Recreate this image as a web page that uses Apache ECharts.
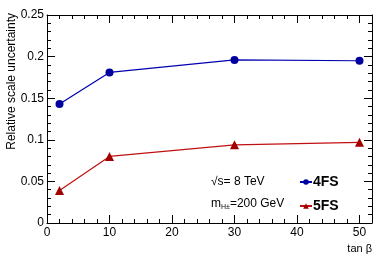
<!DOCTYPE html>
<html><head><meta charset="utf-8">
<script src="https://cdn.jsdelivr.net/npm/echarts@6/dist/echarts.min.js"></script>
<style>html,body{margin:0;padding:0;background:#fff}#c{width:392px;height:266px}</style>
</head><body><div id="c"></div>
<script>
const tanBeta = [2, 10, 30, 50];
const fs4 = [0.143, 0.181, 0.196, 0.195];
const fs5 = [0.039, 0.080, 0.094, 0.097];
const seriesNames = ['4FS', '5FS'];

const chart = echarts.init(document.getElementById('c'));
const FONT = 'Liberation Sans';
const axLine = {show: true, onZero: false, lineStyle: {color: '#000', width: 1}};
function xAx(pos, labels) {
  return {
    type: 'value', position: pos, min: 0, max: 52, interval: 10,
    axisLine: axLine, splitLine: {show: false},
    axisTick: {show: true, inside: true, length: 8, lineStyle: {color: '#000'}},
    minorTick: {show: true, splitNumber: 5, length: 4, lineStyle: {color: '#000'}},
    axisLabel: {show: labels, color: '#000', fontFamily: FONT, fontSize: 12, margin: 4,
      formatter: v => (v % 10 === 0 ? String(v) : '')},
    name: labels ? 'tan β' : '', nameLocation: 'end', nameGap: 0,
    nameTextStyle: {color: '#000', fontFamily: FONT, fontSize: 11, align: 'right', verticalAlign: 'top', padding: [20, 0, 0, 0]}
  };
}
function yAx(pos, labels) {
  return {
    type: 'value', position: pos, min: 0, max: 0.25, interval: 0.05,
    axisLine: axLine, splitLine: {show: false},
    axisTick: {show: true, inside: true, length: 8, lineStyle: {color: '#000'}},
    minorTick: {show: true, splitNumber: 5, length: 4, lineStyle: {color: '#000'}},
    axisLabel: {show: labels, color: '#000', fontFamily: FONT, fontSize: 12, margin: 3,
      formatter: v => String(+v.toFixed(2))}
  };
}
chart.setOption({
  animation: false,
  grid: {left: 47, right: 20, top: 15, bottom: 43, containLabel: false, outerBoundsMode: 'none'},
  xAxis: [xAx('bottom', true), xAx('top', false)],
  yAxis: [yAx('left', true), yAx('right', false)],
  legend: {
    orient: 'vertical', left: 294, top: 170, itemGap: 10, itemWidth: 12, itemHeight: 7,
    textStyle: {color: '#000', fontFamily: FONT, fontSize: 14, fontWeight: 'bold', padding: [0,0,0,-4]},
    data: seriesNames
  },
  graphic: [
    {type: 'text', x: 12, y: 13, rotation: Math.PI / 2, style: {text: 'Relative scale uncertainty', fill: '#000', font: '12px "Liberation Sans"', align: 'right', verticalAlign: 'middle'}},
    {type: 'text', left: 211, top: 176, style: {text: '√s= 8 TeV', fill: '#000', font: '12px "Liberation Sans"'}},
    {type: 'text', left: 211, top: 198, style: {
      text: '{a|m}{b|H±}{a|=200 GeV}', fill: '#000',
      rich: {a: {fontFamily: FONT, fontSize: 12, fill: '#000'}, b: {fontFamily: FONT, fontSize: 7, fill: '#000', verticalAlign: 'bottom', padding: [6, 0, 0, 0]}}
    }}
  ],
  series: [
    {name: seriesNames[0], type: 'line', data: tanBeta.map((x, i) => [x, fs4[i]]),
      symbol: 'circle', symbolSize: 8, lineStyle: {color: '#0000b0', width: 1.2}, itemStyle: {color: '#0000a0'}},
    {name: seriesNames[1], type: 'line', data: tanBeta.map((x, i) => [x, fs5[i]]),
      symbol: 'triangle', symbolSize: 9, lineStyle: {color: '#c01010', width: 1.2}, itemStyle: {color: '#a00000'}}
  ]
});
</script></body></html>
